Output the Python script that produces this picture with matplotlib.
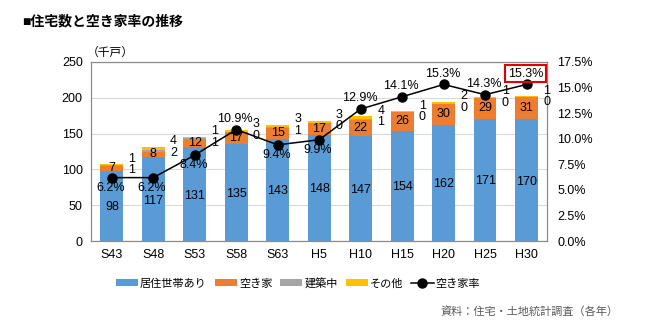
import matplotlib
matplotlib.use("Agg")
import matplotlib.pyplot as plt
import numpy as np

plt.rcParams['font.family'] = ['Liberation Sans', 'Noto Sans CJK JP', 'DejaVu Sans']

categories = ["S43", "S48", "S53", "S58", "S63", "H5", "H10", "H15", "H20", "H25", "H30"]
occupied = [98, 117, 131, 135, 143, 148, 147, 154, 162, 171, 170]
vacant = [7, 8, 12, 17, 15, 17, 22, 26, 30, 29, 31]
construction = [1, 2, 1, 0, 1, 0, 1, 0, 0, 0, 0]
other = [1, 4, 1, 3, 3, 3, 4, 1, 2, 1, 1]
rate = [6.2, 6.2, 8.4, 10.9, 9.4, 9.9, 12.9, 14.1, 15.3, 14.3, 15.3]
rate_above = [False, False, False, True, False, False, True, True, True, True, True]

c_occ = "#5B9BD5"
c_vac = "#ED7D31"
c_con = "#A5A5A5"
c_oth = "#FFC000"

fig = plt.figure(figsize=(6.65, 3.33), dpi=100)
ax = fig.add_axes([0.137, 0.276, 0.686, 0.538])
x = np.arange(len(categories))
w = 0.55
occ = np.array(occupied); vac = np.array(vacant); con = np.array(construction); oth = np.array(other)
b1 = ax.bar(x, occ, w, color=c_occ, label="居住世帯あり", zorder=2)
b2 = ax.bar(x, vac, w, bottom=occ, color=c_vac, label="空き家", zorder=2)
b3 = ax.bar(x, con, w, bottom=occ + vac, color=c_con, label="建築中", zorder=2)
b4 = ax.bar(x, oth, w, bottom=occ + vac + con, color=c_oth, label="その他", zorder=2)

ax.set_ylim(0, 250)
ax.set_xlim(-0.5, len(categories) - 0.5)
ax.set_yticks(np.arange(0, 251, 50))
ax.grid(axis='y', color='#D9D9D9', linewidth=0.8, zorder=0)
ax.set_axisbelow(True)
for s in ax.spines.values():
    s.set_color('#8C8C8C')
    s.set_linewidth(0.9)
ax.tick_params(axis='both', length=0, labelsize=9, pad=6)
ax.set_xticks(x)
ax.set_xticklabels(categories)

fs = 9
for i in range(len(x)):
    ax.text(x[i], occ[i] / 2 - 2, str(occ[i]), ha='center', va='center', fontsize=fs, zorder=5)
    ax.text(x[i], occ[i] + vac[i] / 2, str(vac[i]), ha='center', va='center', fontsize=fs, zorder=5)
    top = occ[i] + vac[i] + con[i] + oth[i]
    ax.text(x[i] + 0.4, top + 8, str(oth[i]), ha='left', va='center', fontsize=fs, zorder=5)
    ax.text(x[i] + 0.4, top - 8, str(con[i]), ha='left', va='center', fontsize=fs, zorder=5)

ax2 = ax.twinx()
ax2.set_ylim(0, 17.5)
ax2.set_yticks(np.arange(0, 17.6, 2.5))
ax2.set_yticklabels([f"{v:.1f}%" for v in np.arange(0, 17.6, 2.5)])
ax2.tick_params(axis='y', length=0, labelsize=9, pad=7)
for s in ax2.spines.values():
    s.set_visible(False)
line, = ax2.plot(x, rate, color='black', linewidth=1.1, marker='o', markersize=6.5, label="空き家率", zorder=6)
for i in range(len(x)):
    off = 1.05 if rate_above[i] else -1.0
    kw = {}
    if i == len(x) - 1:
        kw['bbox'] = dict(boxstyle='square,pad=0.2', facecolor='none', edgecolor='#E00000', linewidth=1.5)
    ax2.text(x[i] - 0.03, rate[i] + off, f"{rate[i]:.1f}%", ha='center', va='center', fontsize=fs, zorder=7, **kw)

handles = [b1, b2, b3, b4, line]
fig.legend(handles=handles, labels=[h.get_label() for h in handles], loc='center',
           bbox_to_anchor=(0.448, 0.15), ncol=5, frameon=False, fontsize=8,
           handlelength=2.0, handleheight=0.55, columnspacing=0.7, handletextpad=0.2)

fig.text(0.033, 0.935, "■住宅数と空き家率の推移", fontsize=10, fontweight='bold', ha='left', va='center')
fig.text(0.13, 0.84, "（千戸）", fontsize=8.5, ha='left', va='center')
fig.text(0.93, 0.063, "資料：住宅・土地統計調査（各年）", fontsize=8, ha='right', va='center', color='#595959')

fig.savefig("out.png", dpi=100)
